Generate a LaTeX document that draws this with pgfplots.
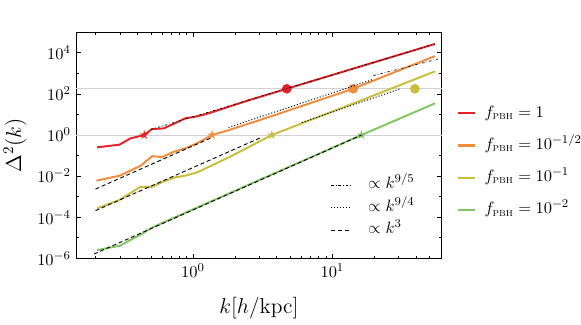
\documentclass[border=0pt]{standalone}
\usepackage{amsmath}
\usepackage{pgfplots}
\pgfplotsset{compat=1.18}
\definecolor{cred}{RGB}{228,35,40}
\definecolor{corange}{RGB}{240,140,60}
\definecolor{cyellow}{RGB}{200,190,60}
\definecolor{cgreen}{RGB}{130,195,100}
\pgfdeclareplotmark{fstar}{%
 \pgfpathmoveto{\pgfpointpolar{90}{\pgfplotmarksize}}%
 \pgfpathlineto{\pgfpointpolar{126}{0.36\pgfplotmarksize}}%
 \pgfpathlineto{\pgfpointpolar{162}{\pgfplotmarksize}}%
 \pgfpathlineto{\pgfpointpolar{198}{0.36\pgfplotmarksize}}%
 \pgfpathlineto{\pgfpointpolar{234}{\pgfplotmarksize}}%
 \pgfpathlineto{\pgfpointpolar{270}{0.36\pgfplotmarksize}}%
 \pgfpathlineto{\pgfpointpolar{306}{\pgfplotmarksize}}%
 \pgfpathlineto{\pgfpointpolar{342}{0.36\pgfplotmarksize}}%
 \pgfpathlineto{\pgfpointpolar{18}{\pgfplotmarksize}}%
 \pgfpathlineto{\pgfpointpolar{54}{0.36\pgfplotmarksize}}%
 \pgfpathclose
 \pgfusepathqfill}
\tikzset{
 dd95/.style={black,line width=0.45pt,dash pattern={on 1.6pt off 1.4pt on 0.4pt off 1.4pt}},
 dt94/.style={black,line width=0.65pt,dash pattern={on 0.7pt off 1.3pt}},
 ds3/.style={black,line width=0.6pt,dash pattern={on 2.7pt off 1.8pt}},
}
\newcommand{\fpbh}{f_{\textsc{pbh}}}
\begin{document}
\begin{tikzpicture}
\useasboundingbox (-50.7pt,-43.8pt) rectangle (336.6pt,172.2pt);
\begin{axis}[
 at={(0pt,0pt)}, anchor=south west,
 width=243.8pt, height=150.7pt, scale only axis,
 xmode=log, ymode=log,
 xmin=0.145, xmax=61, ymin=1e-6, ymax=1e5,
 xtick={1,10},
 minor xtick={0.2,0.3,0.4,0.5,0.6,0.7,0.8,0.9,2,3,4,5,6,7,8,9,20,30,40,50},
 ytick={1e-6,1e-4,1e-2,1,1e2,1e4},
 minor ytick={1e-5,1e-3,1e-1,1e1,1e3},
 tick label style={font=\fontsize{11}{13}\selectfont},
 tick align=inside, major tick length=3pt, minor tick length=1.8pt,
 tick style={black, line width=0.5pt},
 axis line style={line width=0.7pt},
 extra y ticks={1,177.65}, extra y tick labels={},
 extra y tick style={grid=major, major tick length=0pt, grid style={black!18, line width=0.6pt}},
 xlabel={$k[h/\mathrm{kpc}]$},
 ylabel={$\Delta^2(k)$},
 every axis x label/.style={at={(axis description cs:0.5,0)}, anchor=center, yshift=-33pt, font=\fontsize{14}{16}\selectfont},
 every axis y label/.style={at={(axis description cs:0,0.5)}, anchor=center, xshift=-40.7pt, rotate=90, font=\fontsize{14}{16}\selectfont},
 legend style={draw=none, fill=none, inner sep=0pt, outer sep=0pt, row sep=0pt, column sep=5.5pt,
   font=\fontsize{11}{13}\selectfont,
   nodes={inner sep=0pt, text height=13.25pt, text depth=8.25pt},
   at={(axis description cs:1.041,0.713)}, anchor=north west},
 legend cell align=left,
 legend image code/.code={\draw[#1, line width=1.4pt] (0pt,0pt) -- (11.7pt,0pt);},
]
\addplot[cred, line width=1.3pt] coordinates {(0.205,0.251) (0.297,0.339) (0.356,0.684) (0.447,1.0) (0.508,1.95) (0.616,2.09) (0.747,3.80) (0.88,6.46) (1.07,8.04) (1.29,11.2) (2.44,46) (4.71,177.65) (16,2190) (54.4,26900)};
\addlegendentry{$\fpbh=1$}
\addplot[corange, line width=1.3pt] coordinates {(0.203,0.0060) (0.298,0.0105) (0.42,0.0316) (0.51,0.093) (0.60,0.085) (0.726,0.151) (0.88,0.224) (1.07,0.398) (1.37,1.0) (1.75,1.62) (3.03,5.37) (14.1,177.65) (54.4,6900)};
\addlegendentry{$\fpbh=10^{-1/2}$}
\addplot[cyellow, line width=1.3pt] coordinates {(0.205,2.69e-4) (0.297,6.9e-4) (0.419,3.0e-3) (0.508,3.0e-3) (0.616,5.5e-3) (0.747,8.7e-3) (0.88,0.0105) (1.07,0.0151) (1.85,0.088) (3.68,1.0) (13.4,29.8) (54.4,1240)};
\addlegendentry{$\fpbh=10^{-1}$}
\addplot[cgreen, line width=1.3pt] coordinates {(0.205,2.51e-6) (0.298,4.07e-6) (0.419,1.41e-5) (0.508,3.1e-5) (0.616,5.6e-5) (0.747,1.0e-4) (1.0,2.4e-4) (3.58,1.1e-2) (16.2,1.0) (54.5,34.7)};
\addlegendentry{$\fpbh=10^{-2}$}
% markers
\addplot[only marks, mark=*, mark size=3pt, cred, forget plot] coordinates {(4.71,177.65)};
\addplot[only marks, mark=*, mark size=3pt, corange, forget plot] coordinates {(14.1,177.65)};
\addplot[only marks, mark=*, mark size=3pt, cyellow, forget plot] coordinates {(39.1,177.65)};
\addplot[only marks, mark=fstar, mark size=3.3pt, cred, forget plot] coordinates {(0.447,1.0)};
\addplot[only marks, mark=fstar, mark size=3.3pt, corange, forget plot] coordinates {(1.37,1.0)};
\addplot[only marks, mark=fstar, mark size=3.3pt, cyellow, forget plot] coordinates {(3.68,1.0)};
\addplot[only marks, mark=fstar, mark size=3.3pt, cgreen, forget plot] coordinates {(16.2,1.0)};
\end{axis}
\begin{axis}[
 at={(0pt,0pt)}, anchor=south west,
 width=243.8pt, height=150.7pt, scale only axis,
 xmode=log, ymode=log,
 xmin=0.145, xmax=61, ymin=1e-6, ymax=1e5,
 hide axis,
 legend style={draw=none, fill=none, inner sep=0pt, outer sep=0pt, row sep=0pt, column sep=11pt,
   font=\fontsize{11}{13}\selectfont,
   nodes={inner sep=0pt, text height=10pt, text depth=5pt},
   at={(axis description cs:0.6965,0.374)}, anchor=north west},
 legend cell align=left,
 legend image code/.code={\draw[#1] (0pt,0pt) -- (13.3pt,0pt);},
]
\addplot[dd95] coordinates {(0.5,1.86) (54.4,26900)};
\addlegendentry{$\propto k^{9/5}$}
\addplot[dt94] coordinates {(1.80,2.34) (19.7,513)};
\addlegendentry{$\propto k^{9/4}$}
\addplot[ds3] coordinates {(0.2,2.34e-3) (1.37,0.76)};
\addlegendentry{$\propto k^{3}$}
\addplot[dd95, forget plot] coordinates {(19.7,776) (57.4,5000)};
\addplot[ds3, forget plot] coordinates {(0.2,2.09e-4) (3.03,0.72)};
\addplot[dt94, forget plot] coordinates {(6.04,4.07) (30.5,174)};
\addplot[ds3, forget plot] coordinates {(0.195,1.62e-6) (16.2,1.0)};
\end{axis}
\end{tikzpicture}
\end{document}
